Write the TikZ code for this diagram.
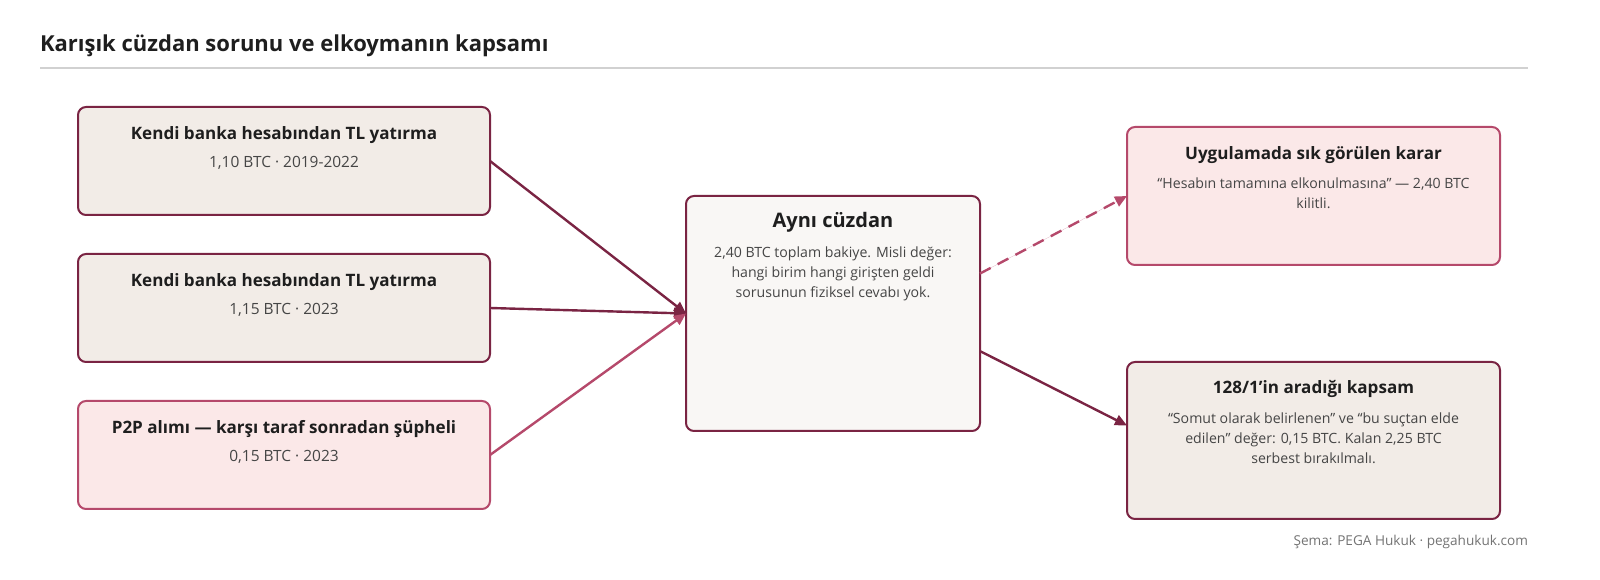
\documentclass[tikz,border=0pt]{standalone}
\usepackage{fontspec}
\setmainfont{Open Sans}
\usepackage{tikz}
\usetikzlibrary{arrows.meta,calc}
\usepackage{xcolor}

\definecolor{wine}{HTML}{7A2443}
\definecolor{rose}{HTML}{B5496B}
\definecolor{sand}{HTML}{F2ECE7}
\definecolor{blush}{HTML}{FBE8E8}
\definecolor{paper}{HTML}{F9F7F5}
\definecolor{ink}{HTML}{1E1E1E}
\definecolor{inkgray}{HTML}{454545}

\begin{document}
\begin{tikzpicture}[x=0.75pt, y=-0.75pt,
    every node/.style={inner sep=0pt, outer sep=0pt},
    box/.style={draw=wine, line width=1.5pt, rounded corners=6pt, fill=sand},
    hotbox/.style={box, draw=rose, fill=blush},
    boxtitle/.style={font=\fontsize{12.8}{15}\selectfont\bfseries, text=ink, align=center},
    boxtext/.style={font=\fontsize{10.6}{15}\selectfont, text=inkgray, align=center},
    boxsub/.style={boxtext, font=\fontsize{11.6}{15}\selectfont},
    flow/.style={draw=wine, line width=1.8pt, -{Triangle[length=9pt, width=8pt]}},
    hotflow/.style={flow, draw=rose, fill=rose}]
    \useasboundingbox (0,0) rectangle (1600,580);

    % Heading
    \node[anchor=base west, font=\fontsize{16.5}{20}\selectfont\bfseries, text=ink] (head) at (40,52) {Karışık cüzdan sorunu ve elkoymanın kapsamı};
    \draw[black!18, line width=1.5pt] (40,68) -- (1528,68);

    % Inputs
    \node[box, minimum width=309pt, minimum height=81pt] (in1) at (284,161) {};
    \node[boxtitle] (in1t) at (284,135) {Kendi banka hesabından TL yatırma};
    \node[boxsub] (in1s) at (284,163) {1,10 BTC · 2019-2022};

    \node[box, minimum width=309pt, minimum height=81pt] (in2) at (284,308) {};
    \node[boxtitle] (in2t) at (284,282) {Kendi banka hesabından TL yatırma};
    \node[boxsub] (in2s) at (284,310) {1,15 BTC · 2023};

    \node[hotbox, minimum width=309pt, minimum height=81pt] (in3) at (284,455) {};
    \node[boxtitle] (in3t) at (284,429) {P2P alımı — karşı taraf sonradan şüpheli};
    \node[boxsub] (in3s) at (284,457) {0,15 BTC · 2023};

    % Wallet
    \node[box, fill=paper, minimum width=220.5pt, minimum height=176.25pt] (wallet) at (833,313.5) {};
    \node[boxtitle, font=\fontsize{15}{18}\selectfont\bfseries] (wallett) at (833,222) {Aynı cüzdan};
    \node[boxtext] (wallets) at (833,274) {2,40 BTC toplam bakiye. Misli değer:\\hangi birim hangi girişten geldi\\sorusunun fiziksel cevabı yok.};

    % Outcomes
    \node[hotbox, minimum width=279.75pt, minimum height=103.5pt] (out1) at (1313.5,196) {};
    \node[boxtitle] (out1t) at (1313.5,155) {Uygulamada sık görülen karar};
    \node[boxtext] (out1s) at (1313.5,193) {“Hesabın tamamına elkonulmasına” — 2,40 BTC\\kilitli.};

    \node[box, minimum width=279.75pt, minimum height=117.75pt] (out2) at (1313.5,440.5) {};
    \node[boxtitle] (out2t) at (1313.5,389) {128/1’in aradığı kapsam};
    \node[boxtext] (out2s) at (1313.5,438) {“Somut olarak belirlenen” ve “bu suçtan elde\\edilen” değer: 0,15 BTC. Kalan 2,25 BTC\\serbest bırakılmalı.};

    % Connectors
    \coordinate (wallettop) at ($(wallet.north east)!0.33!(wallet.south east)$);
    \coordinate (walletlow) at ($(wallet.north east)!0.66!(wallet.south east)$);
    \coordinate (out2in) at ($(out2.west)+(0,-15)$);
    \draw[flow] (in1.east) -- (wallet.west);
    \draw[flow] (in2.east) -- (wallet.west);
    \draw[hotflow] (in3.east) -- (wallet.west);
    \draw[hotflow, dashed, dash pattern=on 9pt off 6pt] (wallettop) -- (out1.west);
    \draw[flow] (walletlow) -- (out2in);

    % Footer
    \node[anchor=base east, font=\fontsize{10.2}{12}\selectfont, text=black!55] (credit) at (1528,546) {Şema: PEGA Hukuk · pegahukuk.com};
\end{tikzpicture}
\end{document}
